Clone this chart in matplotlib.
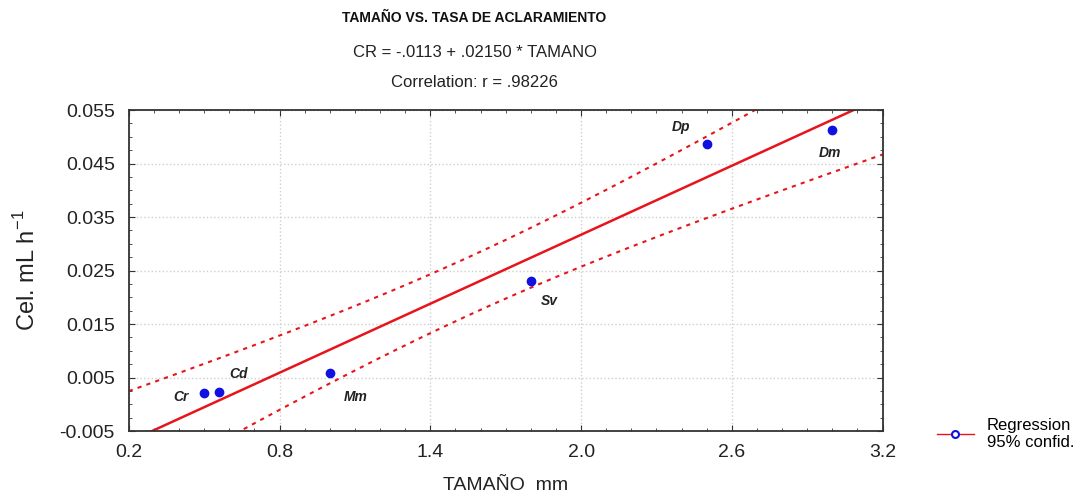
import numpy as np
import matplotlib
matplotlib.use('Agg')
import matplotlib.pyplot as plt
from matplotlib.lines import Line2D
from matplotlib.ticker import MultipleLocator

plt.rcParams['font.family'] = ['Liberation Sans', 'DejaVu Sans']

species = ['Cr', 'Cd', 'Mm', 'Sv', 'Dp', 'Dm']
size_mm = np.array([0.50, 0.56, 1.00, 1.80, 2.50, 3.00])
rate = np.array([0.0022, 0.0023, 0.0058, 0.0230, 0.0487, 0.0512])
intercept, slope = -0.0113, 0.02150
r_value = 0.98226
t_crit = 2.776  # t(0.975, df=4)

x_ticks = [0.2, 0.8, 1.4, 2.0, 2.6, 3.2]
y_ticks = [-0.005, 0.005, 0.015, 0.025, 0.035, 0.045, 0.055]

# label offsets (points) from each marker
offsets = [(-22, -6), (7, 10), (10, -20), (7, -17), (-25, 9), (-10, -19)]

# regression line and 95% confidence band
xs = np.linspace(0.2, 3.2, 200)
fit = intercept + slope * xs
resid = rate - (intercept + slope * size_mm)
n = len(size_mm)
s = np.sqrt(np.sum(resid**2) / (n - 2))
sxx = np.sum((size_mm - size_mm.mean())**2)
band = t_crit * s * np.sqrt(1 / n + (xs - size_mm.mean())**2 / sxx)

fig = plt.figure(figsize=(10.91, 4.96), dpi=100)
ax = fig.add_axes([0.118, 0.131, 0.691, 0.647])

ax.plot(xs, fit, color='#e8141c', lw=1.8)
ax.plot(xs, fit + band, color='#e8141c', lw=1.5, ls=(0, (2, 2.5)))
ax.plot(xs, fit - band, color='#e8141c', lw=1.5, ls=(0, (2, 2.5)))
ax.plot(size_mm, rate, 'o', color='#1010e0', ms=6, zorder=3)

for name, x, y, off in zip(species, size_mm, rate, offsets):
    ax.annotate(name, (x, y), xytext=off, textcoords='offset points',
                fontsize=10, fontweight='bold', style='italic', color='#222222')

ax.set_xlim(0.2, 3.2)
ax.set_ylim(-0.005, 0.055)
ax.set_xticks(x_ticks)
ax.set_yticks(y_ticks)
ax.xaxis.set_minor_locator(MultipleLocator(0.1))
ax.yaxis.set_minor_locator(MultipleLocator(0.0025))
ax.set_xticklabels(['%.1f' % v for v in x_ticks])
ax.set_yticklabels(['%.3f' % v for v in y_ticks])
ax.tick_params(which='both', direction='in', top=True, right=True, labelsize=14,
               colors='#333333', labelcolor='#222222')
ax.tick_params(which='major', length=4)
ax.tick_params(which='minor', length=2.5)
ax.tick_params(axis='x', which='major', pad=9)
ax.tick_params(axis='y', which='major', pad=10)
ax.grid(True, which='major', color='#cfcfcf', ls=':', lw=1)
for sp in ax.spines.values():
    sp.set_color('#333333')
    sp.set_linewidth(1.3)

ax.set_xlabel('TAMAÑO  mm', fontsize=14, labelpad=12, color='#222222')
ax.set_ylabel(r'Cel. mL h$^{\mathregular{-1}}$', fontsize=17, labelpad=14, color='#222222')

fig.text(0.435, 0.955, 'TAMAÑO VS. TASA DE ACLARAMIENTO', ha='center',
         fontsize=10, fontweight='bold', color='#111111')
fig.text(0.435, 0.885, 'CR = %s + %s * TAMANO' % (('%.4f' % intercept).replace('0.', '.'),
                                                 ('%.5f' % slope).lstrip('0')),
         ha='center', fontsize=12, color='#222222')
fig.text(0.435, 0.825, 'Correlation: r = %s' % ('%.5f' % r_value).lstrip('0'),
         ha='center', fontsize=12, color='#222222')

handle = Line2D([], [], color='#e8141c', lw=1, marker='o', mfc='white',
                mec='#1010e0', mew=1.5, ms=5)
fig.legend([handle], ['Regression\n95% confid.'], loc='center left',
           bbox_to_anchor=(0.845, 0.125), frameon=False, fontsize=12,
           handlelength=2.2, handletextpad=0.8)

fig.savefig('out.png', dpi=100)
